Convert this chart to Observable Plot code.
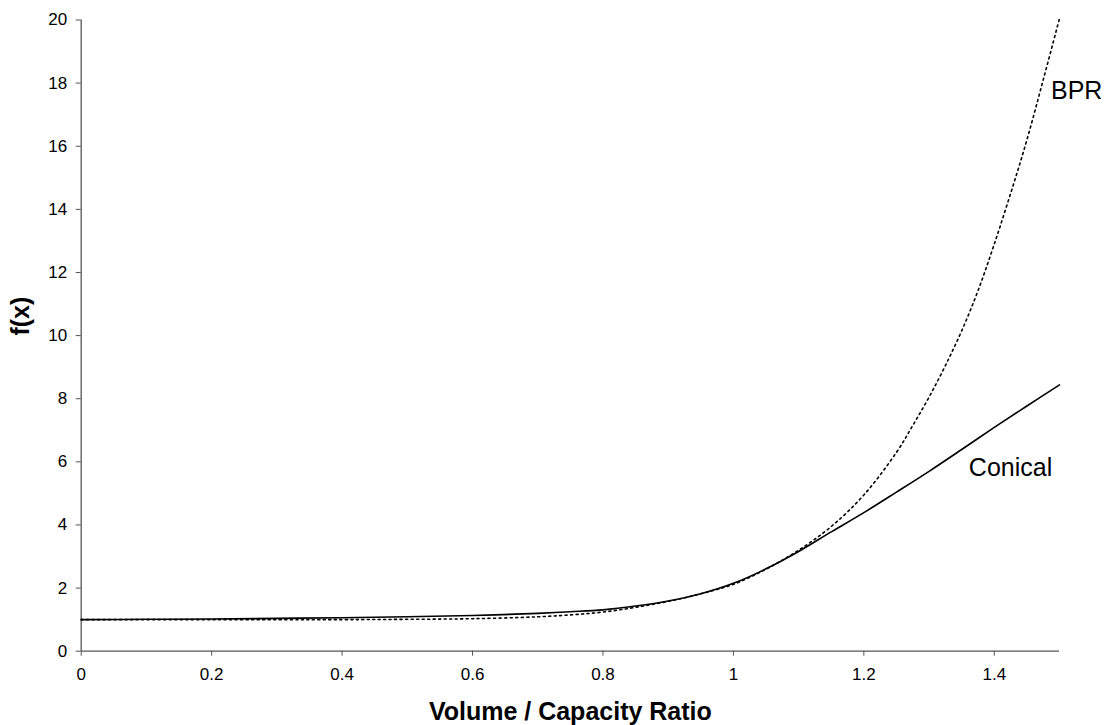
<!DOCTYPE html>
<html>
<head>
<meta charset="utf-8">
<script src="https://cdn.jsdelivr.net/npm/d3@7"></script>
<script src="https://cdn.jsdelivr.net/npm/@observablehq/plot@0.6"></script>
<style>
  html, body { margin: 0; padding: 0; background: #fff; }
  svg { display: block; font-family: "Liberation Sans", Arial, sans-serif; }
</style>
</head>
<body>
<div id="chart"></div>
<script>
// Volume / capacity ratio sample points
const conicalX = [0, 0.1, 0.2, 0.3, 0.4, 0.5, 0.6, 0.7, 0.75, 0.8, 0.85, 0.9, 0.95, 1.0, 1.05, 1.1, 1.15, 1.2, 1.25, 1.3, 1.35, 1.4, 1.45, 1.5];
const conicalY = [1.0, 1.01, 1.02, 1.04, 1.06, 1.09, 1.13, 1.2, 1.25, 1.31, 1.43, 1.59, 1.82, 2.15, 2.61, 3.16, 3.78, 4.39, 5.04, 5.70, 6.39, 7.09, 7.77, 8.44];

const bprX = [0, 0.2, 0.4, 0.5, 0.6, 0.7, 0.75, 0.8, 0.85, 0.9, 0.95, 1.0, 1.05, 1.1, 1.15, 1.2, 1.25, 1.275, 1.3, 1.325, 1.35, 1.375, 1.4, 1.425, 1.45, 1.475, 1.5];
const bprY = [1.0, 1.0, 1.0, 1.01, 1.03, 1.09, 1.15, 1.24, 1.39, 1.58, 1.82, 2.12, 2.6, 3.2, 3.95, 4.95, 6.3, 7.15, 8.05, 9.05, 10.15, 11.42, 12.9, 14.5, 16.2, 18.1, 20.05];

const xTicks = [0, 0.2, 0.4, 0.6, 0.8, 1.0, 1.2, 1.4];
const yTicks = [0, 2, 4, 6, 8, 10, 12, 14, 16, 18, 20];

const seriesNames = ["BPR", "Conical"];
const labelX = [1.487, 1.361];
const labelY = [17.74, 5.82];

const conical = conicalX.map((x, i) => ({x, y: conicalY[i]}));
const bpr = bprX.map((x, i) => ({x, y: bprY[i]}));
const labels = seriesNames.map((name, i) => ({name, x: labelX[i], y: labelY[i]}));

const chart = Plot.plot({
  width: 1104,
  height: 725,
  marginLeft: 80.7,
  marginRight: 45,
  marginTop: 19.5,
  marginBottom: 74.3,
  style: {fontFamily: "'Liberation Sans', Arial, sans-serif", fontSize: "17px", color: "#000", background: "#fff"},
  x: {domain: [0, 1.5]},
  y: {domain: [0, 20]},
  marks: [
    Plot.axisX({ticks: xTicks, tickSize: 5, tickPadding: 12, tickFormat: d => String(+d.toFixed(1)), label: null, stroke: "#555", fontSize: 17}),
    Plot.axisY({ticks: yTicks, tickSize: 5, tickPadding: 9, label: null, stroke: "#555", fontSize: 17}),
    Plot.ruleY([0], {stroke: "#555", strokeWidth: 1.3}),
    Plot.ruleX([0], {stroke: "#555", strokeWidth: 1.3}),
    Plot.line(bpr, {x: "x", y: "y", curve: "catmull-rom", stroke: "#000", strokeWidth: 1.6, strokeDasharray: "2,3.5"}),
    Plot.line(conical, {x: "x", y: "y", curve: "catmull-rom", stroke: "#000", strokeWidth: 1.6}),
    Plot.text(labels, {x: "x", y: "y", text: "name", textAnchor: "start", lineAnchor: "middle", fontSize: 25, fill: "#000"}),
    Plot.text(["Volume / Capacity Ratio"], {frameAnchor: "bottom", lineAnchor: "middle", dy: 61, fontSize: 25, fontWeight: "bold", fill: "#000"}),
    Plot.text(["f(x)"], {frameAnchor: "left", rotate: -90, dx: -60, fontSize: 25, fontWeight: "bold", fill: "#000"})
  ]
});
document.getElementById("chart").appendChild(chart);
</script>
</body>
</html>
